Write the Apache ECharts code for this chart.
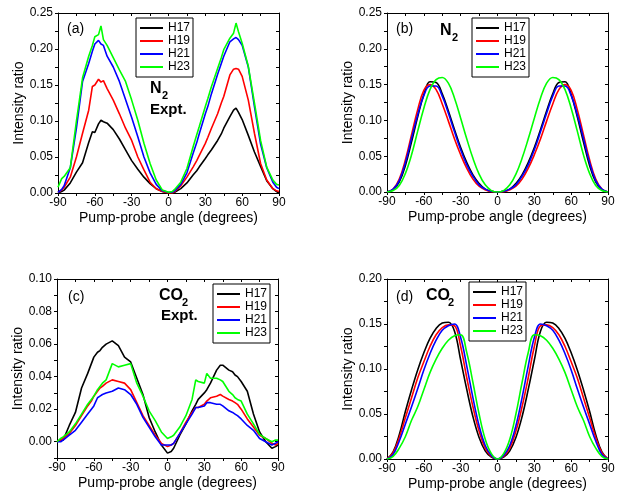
<!DOCTYPE html>
<html>
<head>
<meta charset="UTF-8">
<title>Intensity ratio vs pump-probe angle</title>
<script src="https://cdn.jsdelivr.net/npm/echarts@6/dist/echarts.min.js"></script>
</head>
<body style="margin:0;background:#fff;">
<div id="main" style="width:623px;height:494px;"></div>
<script>
// harmonic names and colours
var names = ['H17', 'H19', 'H21', 'H23'];
var colors = ['#000000', '#ff0000', '#0000ff', '#00ff00'];

// experimental angles (a) and (c)
var angleExp = [-90, -87, -85, -80, -75, -70, -65, -62, -60, -57, -55, -53, -50, -45, -40, -35, -30, -25, -20, -15, -10, -5,
    0, 3, 5, 10, 15, 20, 23, 25, 30, 32, 35, 40, 43, 45, 50, 53, 55, 57, 60, 65, 70, 75, 80, 85, 88, 90];

// (a) N2 experiment
var aH17 = [0, 0.002, 0.004, 0.014, 0.029, 0.042, 0.07, 0.085, 0.084, 0.096, 0.101, 0.099, 0.097, 0.088, 0.075, 0.06, 0.045,
    0.033, 0.022, 0.013, 0.006, 0.002, 0, 0, 0.001, 0.006, 0.014, 0.025, 0.031, 0.036, 0.048, 0.053, 0.06, 0.073, 0.082,
    0.09, 0.106, 0.115, 0.118, 0.112, 0.102, 0.08, 0.057, 0.037, 0.017, 0.006, 0.002, 0];
var aH19 = [0.001, 0.004, 0.008, 0.022, 0.05, 0.083, 0.115, 0.148, 0.15, 0.158, 0.154, 0.156, 0.145, 0.129, 0.11, 0.09, 0.073,
    0.05, 0.032, 0.015, 0.006, 0.002, 0, 0, 0.002, 0.01, 0.022, 0.036, 0.045, 0.052, 0.069, 0.077, 0.09, 0.11, 0.125,
    0.134, 0.164, 0.172, 0.173, 0.172, 0.162, 0.129, 0.083, 0.041, 0.018, 0.006, 0.003, 0.002];
var aH21 = [0.001, 0.005, 0.01, 0.035, 0.09, 0.155, 0.18, 0.197, 0.207, 0.212, 0.207, 0.205, 0.19, 0.175, 0.155, 0.13, 0.105,
    0.078, 0.05, 0.028, 0.012, 0.003, 0.001, 0.001, 0.003, 0.012, 0.028, 0.055, 0.07, 0.082, 0.11, 0.12, 0.138, 0.165, 0.18,
    0.19, 0.21, 0.214, 0.216, 0.213, 0.205, 0.175, 0.12, 0.068, 0.035, 0.015, 0.008, 0.006];
var aH23 = [0.008, 0.02, 0.023, 0.035, 0.1, 0.16, 0.19, 0.205, 0.217, 0.22, 0.232, 0.213, 0.205, 0.188, 0.171, 0.155, 0.129,
    0.101, 0.069, 0.041, 0.018, 0.004, 0.001, 0.002, 0.005, 0.015, 0.034, 0.064, 0.081, 0.092, 0.12, 0.131, 0.148, 0.173, 0.188,
    0.199, 0.215, 0.222, 0.236, 0.224, 0.208, 0.176, 0.125, 0.073, 0.036, 0.018, 0.012, 0.011];

// (c) CO2 experiment
var cH17 = [0, 0.001, 0.001, 0.01, 0.018, 0.033, 0.042, 0.048, 0.052, 0.055, 0.056, 0.058, 0.06, 0.062, 0.059, 0.052, 0.049,
    0.039, 0.029, 0.015, 0.006, -0.002, -0.007, -0.006, -0.004, 0.004, 0.011, 0.019, 0.023, 0.026, 0.03, 0.032, 0.036, 0.044, 0.047,
    0.047, 0.044, 0.043, 0.041, 0.04, 0.037, 0.031, 0.017, 0.006, 0, -0.004, -0.003, -0.002];
var cH19 = [0, 0.001, 0.002, 0.005, 0.01, 0.016, 0.022, 0.025, 0.028, 0.031, 0.033, 0.034, 0.036, 0.038, 0.037, 0.036, 0.032,
    0.024, 0.016, 0.01, 0.004, -0.001, -0.003, -0.002, -0.001, 0.005, 0.012, 0.018, 0.021, 0.021, 0.023, 0.025, 0.027, 0.028, 0.029,
    0.028, 0.026, 0.025, 0.024, 0.023, 0.02, 0.014, 0.009, 0.004, 0.002, -0.001, -0.002, -0.001];
var cH21 = [0, 0, 0.001, 0.004, 0.007, 0.012, 0.017, 0.02, 0.022, 0.027, 0.028, 0.029, 0.03, 0.031, 0.033, 0.032, 0.029,
    0.023, 0.015, 0.009, 0.003, -0.002, -0.002, -0.002, -0.001, 0.005, 0.011, 0.017, 0.021, 0.021, 0.022, 0.024, 0.024, 0.023, 0.023,
    0.022, 0.019, 0.018, 0.017, 0.016, 0.014, 0.01, 0.007, 0.002, 0, -0.002, -0.001, 0];
var cH23 = [0, 0.002, 0.003, 0.006, 0.011, 0.017, 0.023, 0.026, 0.028, 0.032, 0.034, 0.036, 0.038, 0.048, 0.046, 0.047, 0.048,
    0.036, 0.028, 0.019, 0.013, 0.006, 0.002, 0.003, 0.004, 0.009, 0.016, 0.026, 0.038, 0.037, 0.036, 0.042, 0.039, 0.039, 0.038,
    0.037, 0.031, 0.029, 0.027, 0.026, 0.025, 0.017, 0.011, 0.0045, 0.002, 0, 0.001, 0.001];

// theory angles (b) and (d)
var angleTh = [-90, -85, -80, -75, -70, -65, -60, -55, -50, -45, -40, -35, -30, -25, -20, -15, -10, -5, 0,
    5, 10, 15, 20, 25, 30, 35, 40, 45, 50, 55, 60, 65, 70, 75, 80, 85, 90];

// (b) N2 theory
var bH17 = [0, 0.003, 0.014, 0.037, 0.07, 0.105, 0.136, 0.154, 0.153, 0.137, 0.113, 0.087, 0.062, 0.041, 0.024, 0.012, 0.004, 0.001, 0,
    0.001, 0.004, 0.012, 0.024, 0.041, 0.062, 0.087, 0.113, 0.137, 0.153, 0.154, 0.136, 0.105, 0.07, 0.037, 0.014, 0.003, 0];
var bH19 = [0, 0.004, 0.018, 0.045, 0.08, 0.115, 0.142, 0.15, 0.143, 0.123, 0.099, 0.074, 0.052, 0.033, 0.018, 0.008, 0.003, 0.0005, 0,
    0.0005, 0.003, 0.008, 0.018, 0.033, 0.052, 0.074, 0.099, 0.123, 0.143, 0.15, 0.142, 0.115, 0.08, 0.045, 0.018, 0.004, 0];
var bH21 = [0, 0.004, 0.016, 0.041, 0.075, 0.108, 0.135, 0.148, 0.148, 0.134, 0.11, 0.084, 0.059, 0.038, 0.022, 0.01, 0.004, 0.001, 0,
    0.001, 0.004, 0.01, 0.022, 0.038, 0.059, 0.084, 0.11, 0.134, 0.148, 0.148, 0.135, 0.108, 0.075, 0.041, 0.016, 0.004, 0];
var bH23 = [0, 0.002, 0.009, 0.026, 0.052, 0.085, 0.117, 0.143, 0.157, 0.16, 0.152, 0.131, 0.103, 0.074, 0.047, 0.025, 0.01, 0.002, 0,
    0.002, 0.01, 0.025, 0.047, 0.074, 0.103, 0.131, 0.152, 0.16, 0.157, 0.143, 0.117, 0.085, 0.052, 0.026, 0.009, 0.002, 0];

// (d) CO2 theory
var dH17 = [0, 0.008, 0.027, 0.053, 0.077, 0.099, 0.118, 0.134, 0.145, 0.151, 0.152, 0.142, 0.11, 0.077, 0.047, 0.024, 0.009, 0.002, 0,
    0.002, 0.009, 0.024, 0.047, 0.077, 0.11, 0.142, 0.152, 0.151, 0.145, 0.134, 0.118, 0.099, 0.077, 0.053, 0.027, 0.008, 0];
var dH19 = [0, 0.007, 0.024, 0.046, 0.068, 0.09, 0.108, 0.125, 0.138, 0.146, 0.149, 0.148, 0.125, 0.09, 0.058, 0.031, 0.012, 0.003, 0,
    0.003, 0.012, 0.031, 0.058, 0.09, 0.125, 0.148, 0.149, 0.146, 0.138, 0.125, 0.108, 0.09, 0.068, 0.046, 0.024, 0.007, 0];
var dH21 = [0, 0.005, 0.02, 0.039, 0.058, 0.078, 0.099, 0.117, 0.132, 0.143, 0.148, 0.15, 0.135, 0.103, 0.068, 0.037, 0.015, 0.004, 0,
    0.004, 0.015, 0.037, 0.068, 0.103, 0.135, 0.15, 0.148, 0.143, 0.132, 0.117, 0.099, 0.078, 0.058, 0.039, 0.02, 0.005, 0];
var dH23 = [0, 0.003, 0.012, 0.025, 0.043, 0.058, 0.077, 0.096, 0.111, 0.123, 0.132, 0.137, 0.138, 0.118, 0.085, 0.05, 0.022, 0.006, 0,
    0.006, 0.022, 0.05, 0.085, 0.118, 0.138, 0.137, 0.132, 0.123, 0.111, 0.096, 0.077, 0.058, 0.043, 0.025, 0.012, 0.003, 0];

var FONT = '"Liberation Sans", Arial, Helvetica, sans-serif';

var panels = [
    {grid: {left: 58, top: 13, width: 221, height: 180}, x: angleExp, ys: [aH17, aH19, aH21, aH23], smooth: false,
        ymin: 0, ymax: 0.25, ystep: 0.025, ylab: 0.05, legend: [136, 18]},
    {grid: {left: 387, top: 13, width: 221, height: 179}, x: angleTh, ys: [bH17, bH19, bH21, bH23], smooth: 0.4,
        ymin: 0, ymax: 0.25, ystep: 0.025, ylab: 0.05, legend: [472, 18]},
    {grid: {left: 57, top: 279, width: 221, height: 179}, x: angleExp, ys: [cH17, cH19, cH21, cH23], smooth: false,
        ymin: -0.01, ymax: 0.1, ystep: 0.01, ylab: 0.02, legend: [213, 284]},
    {grid: {left: 387, top: 279, width: 221, height: 180}, x: angleTh, ys: [dH17, dH19, dH21, dH23], smooth: 0.4,
        ymin: 0, ymax: 0.2, ystep: 0.025, ylab: 0.05, legend: [469, 282]}
];

function isMult(v, step) {
    var r = v / step;
    return Math.abs(r - Math.round(r)) < 1e-6;
}

var axisLine = {show: true, onZero: false, lineStyle: {color: '#000', width: 1}};
var grids = [], xAxes = [], yAxes = [], series = [], legends = [];

panels.forEach(function (p, i) {
    grids.push(p.grid);
    // bottom
    xAxes.push({
        type: 'value', gridIndex: i, min: -90, max: 90, interval: 15, position: 'bottom',
        axisLine: axisLine, splitLine: {show: false},
        axisTick: {show: true, inside: false, length: 3, lineStyle: {color: '#000'}},
        axisLabel: {
            color: '#000', fontSize: 12, fontFamily: FONT, margin: 4,
            formatter: function (v) { return isMult(v, 30) ? String(Math.round(v)) : ''; }
        },
        name: 'Pump-probe angle (degrees)', nameLocation: 'middle', nameGap: 18,
        nameTextStyle: {color: '#000', fontSize: 14, fontFamily: FONT}
    });
    yAxes.push({
        type: 'value', gridIndex: i, min: p.ymin, max: p.ymax, interval: p.ystep, position: 'left',
        axisLine: axisLine, splitLine: {show: false},
        axisTick: {show: true, inside: false, length: 3, lineStyle: {color: '#000'}},
        axisLabel: {
            color: '#000', fontSize: 12, fontFamily: FONT, margin: 5,
            formatter: (function (lab) {
                return function (v) { return isMult(v, lab) ? v.toFixed(2) : ''; };
            })(p.ylab)
        },
        name: 'Intensity ratio', nameLocation: 'middle', nameGap: 31,
        nameTextStyle: {color: '#000', fontSize: 14, fontFamily: FONT}
    });
    p.ys.forEach(function (vals, k) {
        series.push({
            name: names[k], type: 'line', xAxisIndex: i, yAxisIndex: i,
            data: p.x.map(function (a, j) { return [a, vals[j]]; }),
            symbol: 'none', smooth: p.smooth,
            lineStyle: {color: colors[k], width: 1.6}, itemStyle: {color: colors[k]},
            animation: false
        });
    });
    legends.push({
        orient: 'vertical', left: p.legend[0], top: p.legend[1], data: names,
        icon: 'rect', itemWidth: 23, itemHeight: 2, itemGap: 1, itemTextGap: 3,
        padding: [4, 3, 4, 4], borderColor: '#000', borderWidth: 1, selectedMode: false,
        textStyle: {color: '#000', fontSize: 12, fontFamily: FONT, lineHeight: 12}
    });
});

// mirror axes on top / right
panels.forEach(function (p, i) {
    xAxes.push({
        type: 'value', gridIndex: i, min: -90, max: 90, interval: 15, position: 'top',
        axisLine: axisLine, splitLine: {show: false}, axisLabel: {show: false},
        axisTick: {show: true, inside: true, length: 3, lineStyle: {color: '#000'}}
    });
    yAxes.push({
        type: 'value', gridIndex: i, min: p.ymin, max: p.ymax, interval: p.ystep, position: 'right',
        axisLine: axisLine, splitLine: {show: false}, axisLabel: {show: false},
        axisTick: {show: true, inside: true, length: 3, lineStyle: {color: '#000'}}
    });
});

function txt(left, top, text, size, bold) {
    return {
        type: 'text', left: left, top: top, z: 100,
        style: {text: text, fill: '#000', font: (bold ? 'bold ' : '') + size + 'px ' + FONT}
    };
}

var graphics = [
    txt(67, 22, '(a)', 14), txt(150, 81, 'N', 16, true), txt(162, 90, '2', 11, true), txt(150, 102, 'Expt.', 15, true),
    txt(396, 22, '(b)', 14), txt(440, 23, 'N', 16, true), txt(452, 32, '2', 11, true),
    txt(68, 290, '(c)', 14), txt(159, 288, 'CO', 16, true), txt(182, 297, '2', 11, true), txt(161, 308, 'Expt.', 15, true),
    txt(396, 290, '(d)', 14), txt(426, 288, 'CO', 16, true), txt(448, 297, '2', 11, true)
];

var myChart = echarts.init(document.getElementById('main'));
myChart.setOption({
    animation: false,
    backgroundColor: '#fff',
    grid: grids,
    xAxis: xAxes,
    yAxis: yAxes,
    legend: legends,
    graphic: graphics,
    series: series
});
</script>
</body>
</html>
